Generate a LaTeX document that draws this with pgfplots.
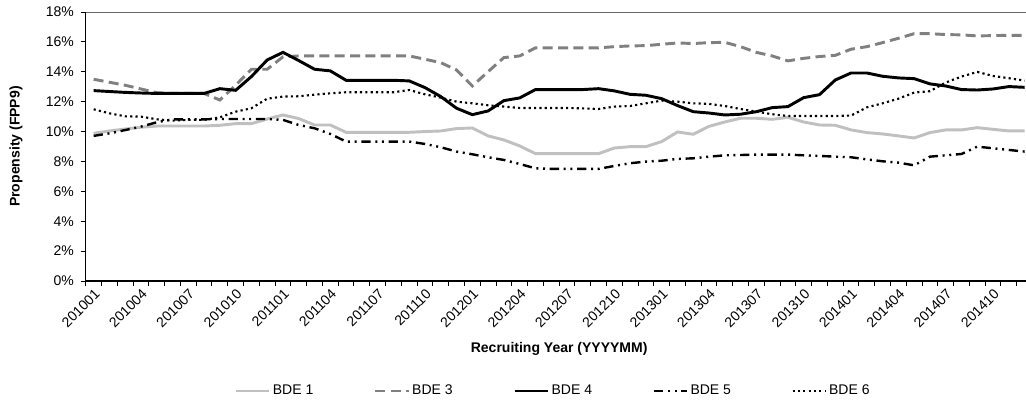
\documentclass[border=0pt]{standalone}
\usepackage{pgfplots}
\pgfplotsset{compat=1.18}
\usepackage{pgfplotstable}
\usepackage{fontspec}
\setmainfont{Liberation Sans}

% month index, BDE 1, BDE 3, BDE 4, BDE 5, BDE 6 (per cent)
\pgfplotstableread{
i  b1    b3    b4    b5    b6
0  9.88  13.50 12.74 9.71  11.49
1  10.04 13.30 12.68 9.88  11.22
2  10.17 13.10 12.62 10.10 11.02
3  10.29 12.85 12.58 10.33 11.00
4  10.37 12.60 12.55 10.62 10.82
5  10.37 12.55 12.55 10.82 10.73
6  10.37 12.55 12.55 10.82 10.78
7  10.37 12.55 12.55 10.82 10.78
8  10.42 12.11 12.87 10.84 10.95
9  10.53 13.10 12.76 10.84 11.33
10 10.53 14.17 13.68 10.84 11.56
11 10.84 14.17 14.79 10.84 12.20
12 11.11 15.00 15.30 10.78 12.34
13 10.87 15.06 14.75 10.44 12.36
14 10.44 15.06 14.17 10.22 12.47
15 10.44 15.06 14.06 9.84  12.56
16 9.95  15.06 13.43 9.33  12.63
17 9.95  15.06 13.43 9.33  12.63
18 9.95  15.06 13.43 9.33  12.63
19 9.95  15.06 13.43 9.33  12.63
20 9.95  15.06 13.39 9.33  12.78
21 10.00 14.84 12.94 9.17  12.49
22 10.04 14.61 12.34 8.95  12.27
23 10.20 14.12 11.56 8.66  12.00
24 10.24 13.05 11.13 8.48  11.89
25 9.71  14.01 11.38 8.28  11.76
26 9.44  14.95 12.07 8.10  11.67
27 9.04  15.06 12.25 7.83  11.58
28 8.52  15.60 12.81 7.54  11.58
29 8.52  15.60 12.81 7.50  11.58
30 8.52  15.60 12.81 7.50  11.58
31 8.52  15.60 12.81 7.50  11.55
32 8.52  15.60 12.87 7.50  11.51
33 8.90  15.68 12.72 7.70  11.67
34 8.99  15.73 12.49 7.88  11.71
35 8.99  15.75 12.43 7.99  11.89
36 9.33  15.84 12.20 8.05  12.07
37 9.97  15.93 11.74 8.17  12.00
38 9.82  15.89 11.33 8.21  11.89
39 10.35 15.95 11.24 8.32  11.85
40 10.64 15.97 11.11 8.41  11.71
41 10.89 15.68 11.16 8.43  11.51
42 10.89 15.30 11.33 8.46  11.33
43 10.82 15.06 11.60 8.46  11.16
44 10.95 14.73 11.67 8.46  11.04
45 10.64 14.90 12.27 8.41  11.04
46 10.44 15.02 12.47 8.37  11.04
47 10.42 15.10 13.45 8.32  11.04
48 10.11 15.51 13.92 8.28  11.07
49 9.93  15.68 13.92 8.14  11.62
50 9.84  15.95 13.70 8.01  11.89
51 9.71  16.24 13.59 7.92  12.20
52 9.57  16.55 13.54 7.74  12.61
53 9.93  16.55 13.19 8.32  12.70
54 10.11 16.49 13.05 8.41  13.28
55 10.11 16.47 12.81 8.50  13.68
56 10.26 16.40 12.78 8.99  13.99
57 10.15 16.42 12.85 8.88  13.72
58 10.04 16.44 13.01 8.77  13.57
59 10.04 16.44 12.96 8.66  13.41
}\fpp

\definecolor{bdeone}{RGB}{192,192,192}
\definecolor{bdethree}{RGB}{128,128,128}

\pgfplotsset{
  legend image code/.code={\draw[#1] (0pt,0pt) -- (25pt,0pt);},
}

\begin{document}
\begin{tikzpicture}
\path[use as bounding box] (0,0) rectangle (769.5pt,306pt);
\begin{axis}[
  at={(64.3pt,95.25pt)}, anchor=south west,
  scale only axis,
  width=710.1pt, height=201.75pt,
  xmin=-0.5, xmax=59.5,
  ymin=0, ymax=18,
  axis x line*=bottom, axis y line*=left,
  axis line style={black, line width=0.9pt},
  tick align=outside,
  tick style={black, line width=0.75pt},
  major tick length=3.75pt, minor tick length=3.75pt,
  xtick={0,3,...,57},
  xticklabels={201001,201004,201007,201010,201101,201104,201107,201110,
    201201,201204,201207,201210,201301,201304,201307,201310,
    201401,201404,201407,201410},
  minor xtick={-0.5,0.5,...,59.5},
  major x tick style={draw=none},
  ytick={0,2,...,18},
  yticklabels={0\%,2\%,4\%,6\%,8\%,10\%,12\%,14\%,16\%,18\%},
  tick label style={font=\fontsize{10.5}{12}\selectfont},
  xticklabel style={rotate=45, anchor=north east, inner sep=1pt},
  yticklabel style={inner sep=2pt, xshift=-3pt},
  xlabel={Recruiting Year (YYYYMM)},
  ylabel={Propensity (FPP9)},
  label style={font=\fontsize{10.5}{12}\selectfont\bfseries},
  xlabel style={at={(axis description cs:0.5,-0.2528)}, anchor=center},
  ylabel style={at={(axis description cs:-0.0736,0.5)}, anchor=center},
  legend columns=5,
  legend style={at={(axis description cs:0.4936,-0.409)}, anchor=center,
    draw=none, fill=none, font=\fontsize{10.5}{12}\selectfont,
    nodes={inner sep=1.5pt},
    /tikz/every even column/.append style={column sep=44pt}},
  legend cell align=left,
  clip=false,
]
\draw[gray!80!black, line width=0.75pt] (rel axis cs:0,1) -- (rel axis cs:1,1);
\addplot[bdeone, line width=2.2pt] table[x=i, y=b1] {\fpp};
\addplot[bdethree, line width=2.2pt, dash pattern=on 7.5pt off 4pt] table[x=i, y=b3] {\fpp};
\addplot[black, line width=2.2pt] table[x=i, y=b4] {\fpp};
\addplot[black, line width=1.8pt, dash pattern=on 7pt off 3.5pt on 1.5pt off 3.5pt on 1.5pt off 3.5pt] table[x=i, y=b5] {\fpp};
\addplot[black, line width=1.6pt, dash pattern=on 1.6pt off 2.4pt] table[x=i, y=b6] {\fpp};
\legend{BDE 1,BDE 3,BDE 4,BDE 5,BDE 6}
\end{axis}
\end{tikzpicture}
\end{document}
